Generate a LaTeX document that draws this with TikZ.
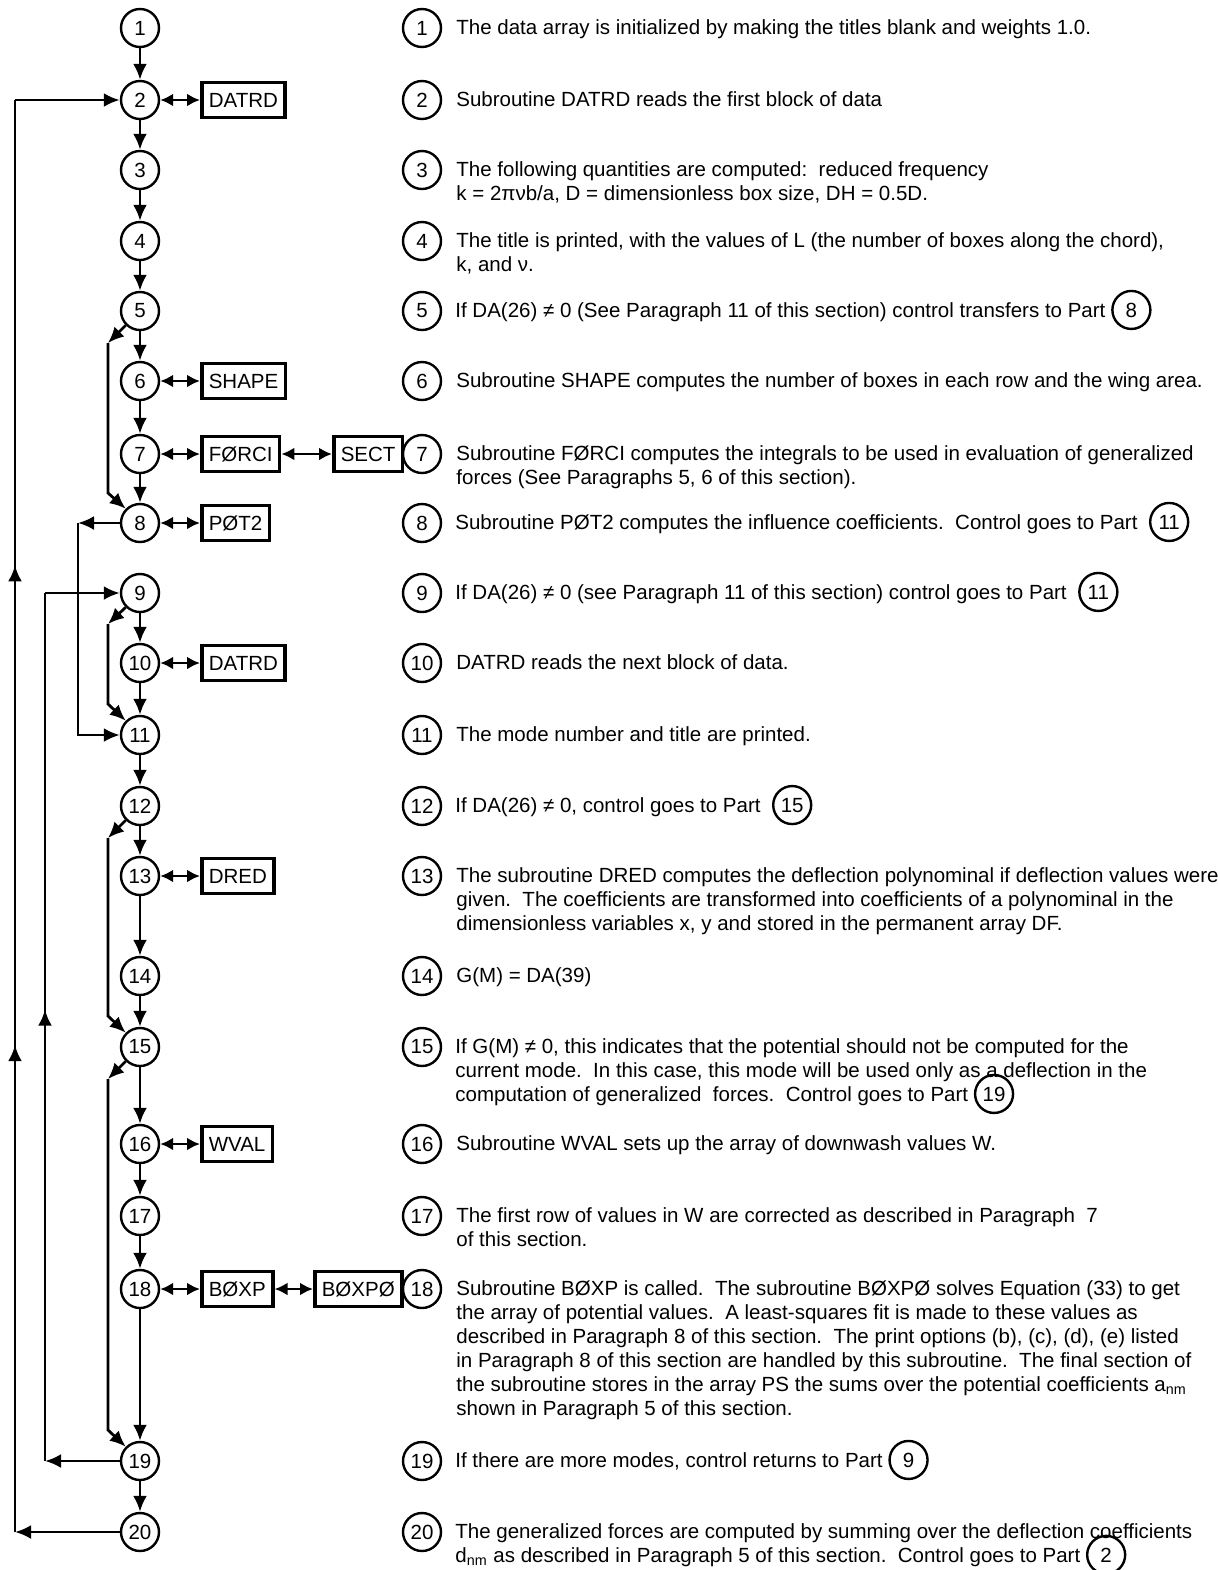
\documentclass[tikz,border=0pt]{standalone}
\usepackage{fontspec}
\setmainfont{Liberation Sans}
\usetikzlibrary{arrows.meta, decorations.markings, positioning}
\tikzset{
    stepc/.style={
           circle,
           draw=black, line width=1.2pt,
           minimum size=19pt,
           inner sep=0pt,
           font=\fontsize{10.25}{12}\selectfont,
           },
    numc/.style={stepc},
    subr/.style={
           rectangle,
           draw=black, line width=1.8pt,
           minimum height=17.5pt,
           inner xsep=3.5pt,
           inner ysep=0pt,
           anchor=west,
           font=\fontsize{10.25}{12}\selectfont,
           },
    desc/.style={
           anchor=base west,
           align=left,
           inner sep=0pt,
           font=\fontsize{10.25}{12}\selectfont,
           },
    flowline/.style={line width=1.4pt, -{Latex[length=8pt,width=7pt]}},
    link/.style={line width=1.4pt, {Latex[length=6.5pt,width=6.5pt]}-{Latex[length=6.5pt,width=6.5pt]}},
    uparrow/.style={line width=1.4pt, postaction={decorate,
           decoration={markings, mark=at position #1 with {\arrow{Latex[length=8pt,width=7pt]}}}}},
}
\newcommand{\partref}[1]{\smash{\tikz[baseline=(pr.base)]\node[numc] (pr) {#1};}}
\newcommand{\SrForci}{FØRCI}
\newcommand{\SrPot}{PØT2}
\newcommand{\SrBoxp}{BØXP}
\newcommand{\SrBoxpo}{BØXPØ}

\begin{document}
\begin{tikzpicture}[x=0.5pt, y=-0.5pt, line width=1.4pt]
      \useasboundingbox (0,0) rectangle (1218,1570);
      \foreach \i/\y in {1/28, 2/100, 3/170, 4/241, 5/311, 6/381, 7/454, 8/523, 9/593, 10/663,
                         11/735, 12/806, 13/876, 14/976, 15/1047, 16/1144, 17/1216, 18/1289, 19/1461, 20/1532} {
          \node[stepc] (s\i) at (140,\y) {\i};
          \node[numc]  (n\i) at (422,\y) {\i};
      }
      \node[subr] (datrd)  at (200,100)  {DATRD};
      \node[subr] (shape)  at (200,381)  {SHAPE};
      \node[subr] (forci)  at (200,454)  {\SrForci};
      \node[subr] (sect)   at (332,454)  {SECT};
      \node[subr] (pot)    at (200,523)  {\SrPot};
      \node[subr] (datrdb) at (200,663)  {DATRD};
      \node[subr] (dred)   at (200,876)  {DRED};
      \node[subr] (wval)   at (200,1144) {WVAL};
      \node[subr] (boxp)   at (200,1289) {\SrBoxp};
      \node[subr] (boxpo)  at (313,1289) {\SrBoxpo};
      \draw[link] (s2)  -- (datrd);
      \draw[link] (s6)  -- (shape);
      \draw[link] (s7)  -- (forci);
      \draw[link] (forci) -- (sect);
      \draw[link] (s8)  -- (pot);
      \draw[link] (s10) -- (datrdb);
      \draw[link] (s13) -- (dred);
      \draw[link] (s16) -- (wval);
      \draw[link] (s18) -- (boxp);
      \draw[link] (boxp) -- (boxpo);
      \foreach \a/\b in {1/2, 2/3, 3/4, 4/5, 5/6, 6/7, 7/8, 9/10, 10/11, 11/12, 12/13,
                         13/14, 14/15, 15/16, 16/17, 17/18, 18/19, 19/20}
          \draw[flowline] (s\a) -- (s\b);
      \coordinate (o20) at (15,1532);
      \coordinate (o2)  at (15,100);
      \draw[flowline] (s20) -- (o20);
      \draw[uparrow=0.34, uparrow=0.675] (o20) -- (o2);
      \draw[flowline] (o2) -- (s2);
      \coordinate (o19) at (45,1461);
      \coordinate (o9)  at (45,593);
      \draw[flowline] (s19) -- (o19);
      \draw[uparrow=0.52] (o19) -- (o9);
      \draw[flowline] (o9) -- (s9);
      \coordinate (o8)  at (78,523);
      \coordinate (o11) at (78,735);
      \draw[flowline] (s8) -- (o8);
      \draw[flowline] (o8) -- (o11) -- (s11);
      \coordinate (b5)  at (108,343);
      \coordinate (b8)  at (108,493);
      \draw[flowline] (s5.south west) -- (b5);
      \draw[flowline] (b5) -- (b8) -- (s8.north west);
      \coordinate (b9)  at (108,624);
      \coordinate (b11) at (108,704);
      \draw[flowline] (s9.south west) -- (b9);
      \draw[flowline] (b9) -- (b11) -- (s11.north west);
      \coordinate (b12) at (108,838);
      \coordinate (b15) at (108,1016);
      \draw[flowline] (s12.south west) -- (b12);
      \draw[flowline] (b12) -- (b15) -- (s15.north west);
      \coordinate (c15) at (108,1079);
      \coordinate (c19) at (108,1430);
      \draw[flowline] (s15.south west) -- (c15);
      \draw[flowline] (c15) -- (c19) -- (s19.north west);
      \node[desc] (d1)  at (455,34)   {The data array is initialized by making the titles blank and weights 1.0.};
      \node[desc] (d2)  at (455,106)  {Subroutine DATRD reads the first block of data};
      \node[desc] (d3)  at (455,200)  {The following quantities are computed:\ \ reduced frequency\\
                                       k = 2πνb/a, D = dimensionless box size, DH = 0.5D.};
      \node[desc] (d4)  at (455,271)  {The title is printed, with the values of L (the number of boxes along the chord),\\
                                       k, and ν.};
      \node[desc] (d5)  at (455,317)  {If DA(26) ≠ 0 (See Paragraph 11 of this section) control transfers to Part \partref{8}};
      \node[desc] (d6)  at (455,387)  {Subroutine SHAPE computes the number of boxes in each row and the wing area.};
      \node[desc] (d7)  at (455,484)  {Subroutine \SrForci{} computes the integrals to be used in evaluation of generalized\\
                                       forces (See Paragraphs 5, 6 of this section).};
      \node[desc] (d8)  at (455,529)  {Subroutine \SrPot{} computes the influence coefficients.\ \ Control goes to Part \ \partref{11}};
      \node[desc] (d9)  at (455,599)  {If DA(26) ≠ 0 (see Paragraph 11 of this section) control goes to Part \ \partref{11}};
      \node[desc] (d10) at (455,669)  {DATRD reads the next block of data.};
      \node[desc] (d11) at (455,741)  {The mode number and title are printed.};
      \node[desc] (d12) at (455,812)  {If DA(26) ≠ 0, control goes to Part \ \partref{15}};
      \node[desc] (d13) at (455,930)  {The subroutine DRED computes the deflection polynominal if deflection values were\\
                                       given.\ \ The coefficients are transformed into coefficients of a polynominal in the\\
                                       dimensionless variables x, y and stored in the permanent array DF.};
      \node[desc] (d14) at (455,982)  {G(M) = DA(39)};
      \node[desc] (d15) at (455,1101) {If G(M) ≠ 0, this indicates that the potential should not be computed for the\\
                                       current mode.\ \ In this case, this mode will be used only as a deflection in the\\
                                       computation of generalized\ \ forces.\ \ Control goes to Part \partref{19}};
      \node[desc] (d16) at (455,1150) {Subroutine WVAL sets up the array of downwash values W.};
      \node[desc] (d17) at (455,1246) {The first row of values in W are corrected as described in Paragraph\ \ 7\\
                                       of this section.};
      \node[desc] (d18) at (455,1415) {Subroutine \SrBoxp{} is called.\ \ The subroutine \SrBoxpo{} solves Equation (33) to get\\
                                       the array of potential values.\ \ A least-squares fit is made to these values as\\
                                       described in Paragraph 8 of this section.\ \ The print options (b), (c), (d), (e) listed\\
                                       in Paragraph 8 of this section are handled by this subroutine.\ \ The final section of\\
                                       the subroutine stores in the array PS the sums over the potential coefficients a\textsubscript{nm}\\
                                       shown in Paragraph 5 of this section.};
      \node[desc] (d19) at (455,1467) {If there are more modes, control returns to Part \partref{9}};
      \node[desc] (d20) at (455,1562) {The generalized forces are computed by summing over the deflection coefficients\\
                                       d\textsubscript{nm} as described in Paragraph 5 of this section.\ \ Control goes to Part \partref{2}};
\end{tikzpicture}
\end{document}
